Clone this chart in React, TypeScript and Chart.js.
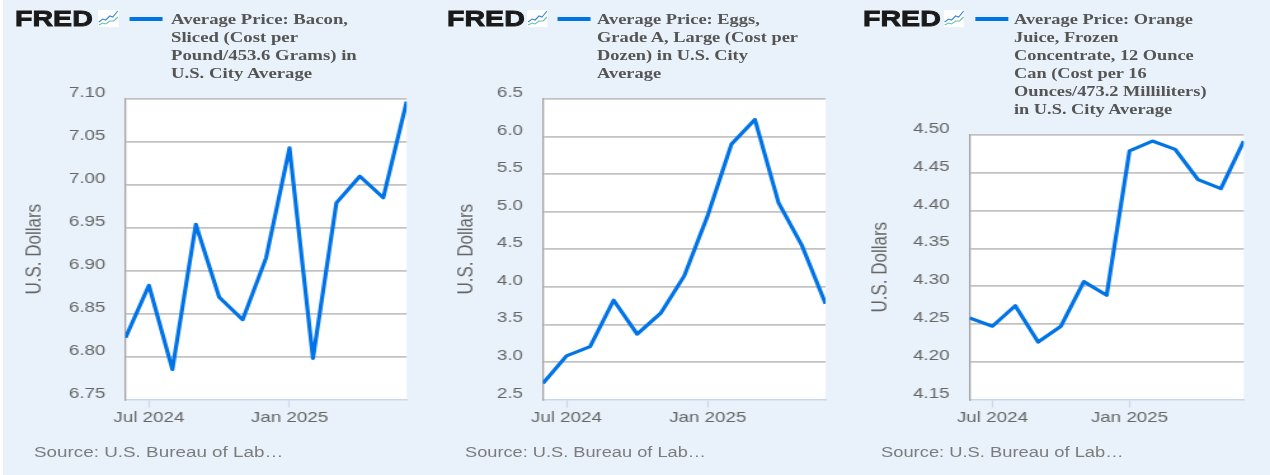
import React, { useEffect, useRef } from "react";
import { Chart, registerables } from "chart.js";

Chart.register(...registerables);

const months = ["Jun 2024", "Jul 2024", "Aug 2024", "Sep 2024", "Oct 2024", "Nov 2024", "Dec 2024", "Jan 2025", "Feb 2025", "Mar 2025", "Apr 2025", "May 2025", "Jun 2025"];
const labelledMonths = ["Jul 2024", "Jan 2025"];

const baconValues = [6.822, 6.883, 6.785, 6.954, 6.869, 6.843, 6.915, 7.043, 6.798, 6.979, 7.01, 6.985, 7.097];
const eggValues = [2.715, 3.08, 3.204, 3.821, 3.37, 3.649, 4.146, 4.953, 5.897, 6.227, 5.122, 4.548, 3.775];
const juiceValues = [4.258, 4.247, 4.274, 4.226, 4.247, 4.306, 4.288, 4.479, 4.492, 4.481, 4.441, 4.429, 4.492];

const baconTitle = ["Average Price: Bacon,", "Sliced (Cost per", "Pound/453.6 Grams) in", "U.S. City Average"];
const eggTitle = ["Average Price: Eggs,", "Grade A, Large (Cost per", "Dozen) in U.S. City", "Average"];
const juiceTitle = ["Average Price: Orange", "Juice, Frozen", "Concentrate, 12 Ounce", "Can (Cost per 16", "Ounces/473.2 Milliliters)", "in U.S. City Average"];

const yAxisTitle = "U.S. Dollars";
const sourceText = "Source: U.S. Bureau of Lab…";

// The reference is a horizontally stretched picture: everything is laid out at 1/K and scaled.
const K = 1.27;
const BLUE = "#0073e6";
const BG = "#e9f2fa";

const panels = [
  { values: baconValues, title: baconTitle, min: 6.75, max: 7.1, step: 0.05, dec: 2, cl: 0, cr: 425, plotL: 125.5, plotR: 407.5, plotT: 99, axisX: 35, logoX: 15, iconX: 98, lineX: 130, lineW: 33, textX: 171, srcX: 34, titleSize: 14.75, srcSize: 14.85 },
  { values: eggValues, title: eggTitle, min: 2.5, max: 6.5, step: 0.5, dec: 1, cl: 425, cr: 845, plotL: 542.5, plotR: 826, plotT: 99, axisX: 466, logoX: 447, iconX: 527, lineX: 558, lineW: 33, textX: 597, srcX: 465, titleSize: 14.5, srcSize: 14.35 },
  { values: juiceValues, title: juiceTitle, min: 4.15, max: 4.5, step: 0.05, dec: 2, cl: 845, cr: 1270, plotL: 970, plotR: 1245, plotT: 135, axisX: 881, logoX: 863, iconX: 943, lineX: 975, lineW: 33, textX: 1014, srcX: 881, titleSize: 14.45, srcSize: 14.45 },
];
const PLOT_B = 399.5;
const AXIS_H = 40;
const AXIS_FONT = 17;
const TICK_FONT = 14.8;

const whitePlot = {
  id: "whitePlot",
  beforeDraw(chart: any) {
    const { ctx, chartArea: a } = chart;
    ctx.save();
    ctx.fillStyle = "#fff";
    ctx.fillRect(a.left, a.top, a.right - a.left, a.bottom - a.top);
    ctx.restore();
  },
};

function Panel({ p }: { p: (typeof panels)[number] }) {
  const ref = useRef<HTMLCanvasElement>(null);
  useEffect(() => {
    const titleOffset = (AXIS_FONT * 1.2) / 2;
    const padLeft = (p.axisX - p.cl) / K - titleOffset;
    const axisWidth = (p.plotL - p.cl) / K - padLeft;
    const chart = new Chart(ref.current as HTMLCanvasElement, {
      type: "line",
      data: {
        labels: months,
        datasets: [
          {
            label: p.title.join(" "),
            data: p.values,
            borderColor: BLUE,
            borderWidth: 3.2,
            borderJoinStyle: "round",
            pointRadius: 0,
            tension: 0,
            clip: 0,
          },
        ],
      },
      plugins: [whitePlot],
      options: {
        animation: false,
        responsive: false,
        layout: {
          autoPadding: false,
          padding: {
            left: padLeft,
            right: (p.cr - p.plotR) / K,
            top: p.plotT,
            bottom: 475 - PLOT_B - AXIS_H,
          },
        },
        plugins: { legend: { display: false }, title: { display: false }, tooltip: { enabled: false } },
        scales: {
          x: {
            type: "category",
            afterFit: (s: any) => { s.height = AXIS_H; },
            afterBuildTicks: (s: any) => {
              s.ticks = s.ticks.filter((t: any) => labelledMonths.includes(months[t.value]));
            },
            grid: { drawOnChartArea: false, drawTicks: true, tickLength: 8, tickColor: "#ccd6eb", tickWidth: 1.2 },
            border: { color: "#ccd6eb", width: 1.6 },
            ticks: {
              autoSkip: false,
              maxRotation: 0,
              padding: 2,
              color: "#666",
              font: { family: "'Liberation Sans'", size: 14.8 },
              callback: (v: any) => months[v],
            },
          },
          y: {
            type: "linear",
            min: p.min,
            max: p.max,
            afterFit: (s: any) => { s.width = axisWidth; },
            grid: {
              drawTicks: false,
              tickLength: 0,
              lineWidth: 1.7,
              color: (c: any) => (c.index === 0 ? "transparent" : "#c3c3c3"),
            },
            border: { color: "#a0a0a0", width: 1.3 },
            title: {
              display: true,
              text: yAxisTitle,
              color: "#666",
              padding: 0,
              font: { family: "'Liberation Sans'", size: AXIS_FONT, lineHeight: 1.2 },
            },
            ticks: {
              stepSize: p.step,
              padding: 20 / K,
              color: "#666",
              font: { family: "'Liberation Sans'", size: TICK_FONT, lineHeight: "12px" },
              // a blank second line lifts the label above its gridline, as in the reference
              callback: (v: any) => [Number(v).toFixed(p.dec), ""],
            },
          },
        },
      },
    } as any);
    return () => chart.destroy();
  }, [p]);

  return (
    <>
      <canvas
        ref={ref}
        width={(p.cr - p.cl) / K}
        height={475}
        style={{ position: "absolute", left: p.cl / K, top: 0 }}
      />
      <div style={{ position: "absolute", left: p.logoX / K, top: 5.5, font: "900 22.5px/26px 'Liberation Sans'", color: "#1a1a1a", WebkitTextStroke: "0.8px #1a1a1a" }}>FRED</div>
      <svg style={{ position: "absolute", left: p.iconX / K, top: 10 }} width={21 / K} height={17} viewBox="0 0 21 17" preserveAspectRatio="none">
        <rect width="21" height="17" fill="#fff" />
        <polyline points="1,12 5,9 8,10 12,6 15,7 20,1" fill="none" stroke="#3c86d6" strokeWidth="1.1" />
        <polyline points="1,15 5,13 8,14 12,11 16,11 20,7" fill="none" stroke="#6fbfa8" strokeWidth="1.1" />
      </svg>
      <div style={{ position: "absolute", left: p.lineX / K, top: 17.3, width: p.lineW / K, height: 3.4, background: BLUE }} />
      <div style={{ position: "absolute", left: p.textX / K, top: 10, font: `bold ${p.titleSize}px/18px 'Liberation Serif'`, color: "#555", whiteSpace: "nowrap" }}>
        {p.title.map((t) => (<div key={t}>{t}</div>))}
      </div>
      <div style={{ position: "absolute", left: p.srcX / K, top: 443, font: `${p.srcSize}px/18px 'Liberation Sans'`, color: "#7c7c7c", whiteSpace: "nowrap" }}>{sourceText}</div>
    </>
  );
}

export default function App() {
  return (
    <div style={{ position: "fixed", left: 0, top: 0, width: 1270, height: 475, overflow: "hidden", background: "#fff" }}>
      <div style={{ position: "absolute", left: 3, top: 0, width: 1267, height: 475, background: BG }} />
      <div style={{ position: "absolute", left: 0, top: 0, width: 1270 / K, height: 475, transform: `scaleX(${K})`, transformOrigin: "0 0", filter: "blur(0.3px)" }}>
        {panels.map((p) => (<Panel key={p.textX} p={p} />))}
      </div>
    </div>
  );
}
